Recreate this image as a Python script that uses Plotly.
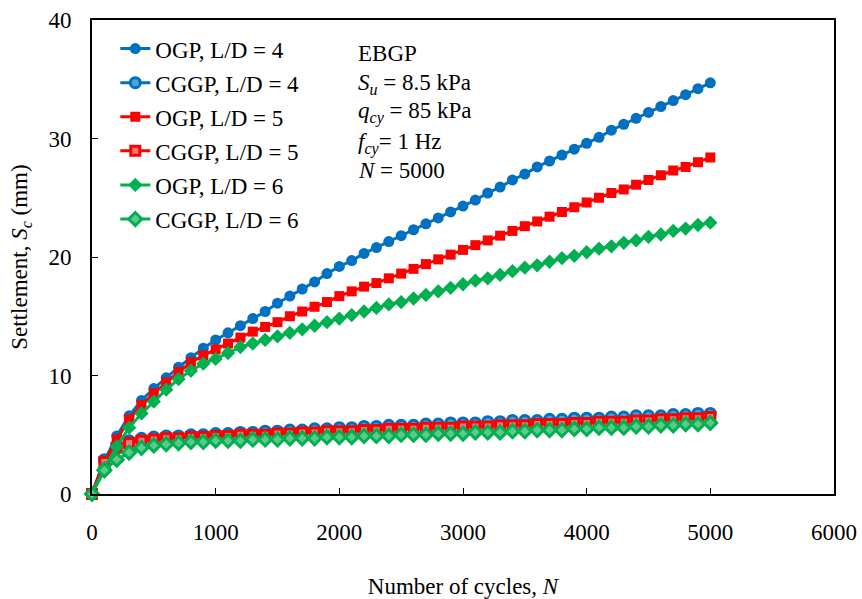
import plotly.graph_objects as go

# Number of loading cycles (sampled every 100 cycles)
cycles = list(range(0, 5001, 100))

# Cyclic settlement S_c (mm)
ogp_ld4 = [0.0, 2.8, 4.9, 6.6, 7.9, 8.9, 9.8, 10.7, 11.5, 12.3, 13.0,
           13.6, 14.2, 14.8, 15.4, 16.1, 16.7, 17.3, 17.9, 18.6, 19.2,
           19.7, 20.3, 20.8, 21.3, 21.8, 22.3, 22.8, 23.3, 23.8, 24.3,
           24.8, 25.4, 25.9, 26.5, 27.0, 27.6, 28.1, 28.6, 29.1, 29.6,
           30.1, 30.7, 31.2, 31.7, 32.2, 32.7, 33.2, 33.7, 34.2, 34.7]
cggp_ld4 = [0.0, 2.9, 4.1, 4.5, 4.7, 4.8, 4.9, 4.9, 5.0, 5.0, 5.1,
            5.1, 5.2, 5.2, 5.3, 5.3, 5.4, 5.4, 5.5, 5.5, 5.6,
            5.6, 5.7, 5.7, 5.8, 5.8, 5.8, 5.9, 5.9, 6.0, 6.0,
            6.0, 6.1, 6.1, 6.2, 6.2, 6.2, 6.3, 6.3, 6.4, 6.4,
            6.4, 6.5, 6.5, 6.6, 6.6, 6.6, 6.7, 6.7, 6.8, 6.8]
ogp_ld5 = [0.0, 2.7, 4.6, 6.3, 7.5, 8.5, 9.4, 10.3, 11.1, 11.7, 12.2,
           12.7, 13.2, 13.7, 14.1, 14.5, 15.0, 15.4, 15.8, 16.2, 16.7,
           17.1, 17.5, 17.8, 18.2, 18.6, 19.0, 19.4, 19.8, 20.2, 20.6,
           21.0, 21.4, 21.8, 22.2, 22.6, 23.0, 23.4, 23.8, 24.2, 24.6,
           25.0, 25.4, 25.7, 26.1, 26.5, 26.9, 27.3, 27.6, 28.0, 28.4]
cggp_ld5 = [0.0, 2.7, 3.9, 4.3, 4.5, 4.6, 4.7, 4.7, 4.8, 4.8, 4.9,
            4.9, 5.0, 5.0, 5.0, 5.1, 5.1, 5.2, 5.2, 5.3, 5.3,
            5.3, 5.4, 5.4, 5.5, 5.5, 5.5, 5.6, 5.6, 5.6, 5.7,
            5.7, 5.7, 5.8, 5.8, 5.8, 5.9, 5.9, 5.9, 6.0, 6.0,
            6.1, 6.1, 6.1, 6.2, 6.2, 6.3, 6.3, 6.4, 6.4, 6.5]
ogp_ld6 = [0.0, 2.2, 4.0, 5.6, 6.8, 7.8, 8.8, 9.7, 10.4, 11.0, 11.4,
           11.9, 12.4, 12.7, 13.0, 13.3, 13.6, 13.9, 14.2, 14.5, 14.8,
           15.1, 15.4, 15.7, 16.0, 16.2, 16.5, 16.8, 17.1, 17.4, 17.7,
           18.0, 18.2, 18.5, 18.8, 19.1, 19.3, 19.6, 19.9, 20.1, 20.4,
           20.7, 20.9, 21.2, 21.4, 21.7, 21.9, 22.2, 22.4, 22.7, 22.9]
cggp_ld6 = [0.0, 2.0, 2.9, 3.5, 3.9, 4.1, 4.2, 4.3, 4.4, 4.4, 4.5,
            4.5, 4.5, 4.6, 4.6, 4.6, 4.7, 4.7, 4.7, 4.8, 4.8,
            4.8, 4.9, 4.9, 4.9, 5.0, 5.0, 5.0, 5.1, 5.1, 5.1,
            5.2, 5.2, 5.2, 5.3, 5.3, 5.4, 5.4, 5.4, 5.5, 5.5,
            5.6, 5.6, 5.6, 5.7, 5.7, 5.8, 5.8, 5.9, 5.9, 6.0]

x_ticks = [0, 1000, 2000, 3000, 4000, 5000, 6000]
y_ticks = [0, 10, 20, 30, 40]

BLUE = "#0070C0"
RED = "#FF0000"
GREEN = "#00B050"
FONT = "Liberation Serif, Times New Roman, serif"
FS = 23

series = [
    ("OGP, L/D = 4", ogp_ld4, BLUE, "circle", 11, BLUE, 0),
    ("CGGP, L/D = 4", cggp_ld4, BLUE, "circle", 10, "#5A9FD4", 3),
    ("OGP, L/D = 5", ogp_ld5, RED, "square", 10, RED, 0),
    ("CGGP, L/D = 5", cggp_ld5, RED, "square", 9, "#E87C7C", 3),
    ("OGP, L/D = 6", ogp_ld6, GREEN, "diamond", 11, GREEN, 0),
    ("CGGP, L/D = 6", cggp_ld6, GREEN, "diamond", 10, "#5CC98C", 3),
]

fig = go.Figure()
for i, (name, vals, col, sym, size, fill, lw) in enumerate(series):
    fig.add_trace(go.Scatter(
        x=cycles, y=vals, name=name, mode="lines+markers",
        legendgroup=f"g{i}",
        line=dict(color=col, width=3),
        marker=dict(symbol=sym, size=size, color=fill,
                    line=dict(color=col, width=lw)),
        cliponaxis=False,
    ))

axis_common = dict(
    showline=True, linecolor="black", linewidth=2, mirror=True,
    ticks="inside", ticklen=6, tickwidth=1, tickcolor="black",
    showgrid=False, zeroline=False, automargin=False,
    tickfont=dict(family=FONT, size=FS, color="black"),
)

fig.update_xaxes(
    range=[0, 6000], tickvals=x_ticks, ticktext=[str(v) for v in x_ticks],
    ticklabelstandoff=16,
    title=dict(text="Number of cycles, <i>N</i>", standoff=34,
               font=dict(family=FONT, size=FS, color="black")),
    **axis_common,
)
fig.update_yaxes(
    range=[0, 40], tickvals=y_ticks, ticktext=[str(v) for v in y_ticks],
    ticklabelstandoff=14,
    title=dict(text="Settlement, <i>S</i><sub><i>c</i></sub> (mm)", standoff=14,
               font=dict(family=FONT, size=FS, color="black")),
    **axis_common,
)

info_lines = [
    ("EBGP", 0.93),
    ("<i>S</i><sub><i>u</i></sub> = 8.5 kPa", 0.865),
    ("<i>q</i><sub><i>cy</i></sub> = 85 kPa", 0.804),
    ("<i>f</i><sub><i>cy</i></sub>= 1 Hz", 0.7405),
    ("<i>N</i> = 5000", 0.6835),
]
for txt, yp in info_lines:
    fig.add_annotation(
        text=txt, xref="paper", yref="paper", x=0.356, y=yp,
        xanchor="left", yanchor="middle", showarrow=False,
        font=dict(family=FONT, size=FS, color="black"),
    )

fig.update_layout(
    width=862, height=599,
    margin=dict(l=92, r=28, t=20, b=105),
    paper_bgcolor="white", plot_bgcolor="white",
    font=dict(family=FONT, size=FS, color="black"),
    legend=dict(
        x=0.0314, y=0.985, xanchor="left", yanchor="top",
        bgcolor="rgba(0,0,0,0)", font=dict(family=FONT, size=FS, color="black"),
        itemwidth=30, tracegroupgap=1.2,
    ),
    showlegend=True,
)

fig.write_html("out.html")
